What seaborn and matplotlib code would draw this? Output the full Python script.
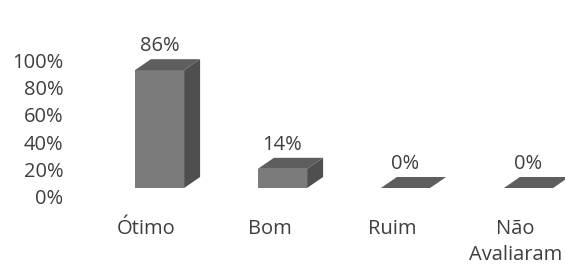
import matplotlib
matplotlib.use("Agg")
import matplotlib.pyplot as plt
import seaborn as sns
from matplotlib.patches import Polygon
from matplotlib.transforms import ScaledTranslation

categories = ["Ótimo", "Bom", "Ruim", "Não\nAvaliaram"]
values = [86, 14, 0, 0]
tick_values = [0, 20, 40, 60, 80, 100]
tick_labels = ["0%", "20%", "40%", "60%", "80%", "100%"]

sns.set_theme(style="white")
plt.rcParams['font.family'] = ['Open Sans', 'DejaVu Sans']
TEXT = "#3f3f3f"
FRONT, SIDE, TOP = "#7b7b7b", "#4f4f4f", "#5e5e5e"
FS = 14.5

W, H = 565, 267
fig = plt.figure(figsize=(W / 100, H / 100), dpi=100)
fig.patch.set_facecolor("white")
ax = fig.add_axes([98 / W, (H - 188) / H, (565 - 98) / W, 137 / H])
sns.barplot(x=categories, y=values, color=FRONT, width=0.4, saturation=1,
            ax=ax, linewidth=0)
ax.set_xlim(-0.5, -0.5 + 467 / 123)
ax.set_ylim(0, 100)

# depth of 3D effect (px -> data units)
dx = 16 / 123
dy = 11 / 1.37

for p, v in zip(ax.patches, values):
    p.set_clip_on(False)
    x0, w, h = p.get_x(), p.get_width(), p.get_height()
    if h > 0:
        side = Polygon([(x0 + w, 0), (x0 + w + dx, dy), (x0 + w + dx, h + dy), (x0 + w, h)],
                       closed=True, facecolor=SIDE, edgecolor="none", clip_on=False)
        ax.add_patch(side)
    top = Polygon([(x0, h), (x0 + w, h), (x0 + w + dx, h + dy), (x0 + dx, h + dy)],
                  closed=True, facecolor=TOP, edgecolor="none", clip_on=False)
    ax.add_patch(top)
    ax.text(x0 + w / 2, h, f"{v}%", ha="center", va="center", fontsize=FS, color=TEXT,
            transform=ax.transData + ScaledTranslation(0, 24 / 100, fig.dpi_scale_trans),
            clip_on=False)

for s in ax.spines.values():
    s.set_visible(False)

ax.set_yticks(tick_values, tick_labels)
ax.tick_params(axis="y", length=0, pad=25, labelsize=FS, labelcolor=TEXT)
for lab in ax.get_yticklabels():
    lab.set_transform(lab.get_transform() + ScaledTranslation(0, -9 / 100, fig.dpi_scale_trans))

ax.tick_params(axis="x", length=0, pad=22, labelsize=FS, labelcolor=TEXT)
for lab in ax.get_xticklabels():
    lab.set_linespacing(1.45)
    lab.set_transform(lab.get_transform() + ScaledTranslation(-13 / 100, 0, fig.dpi_scale_trans))

ax.set_xlabel("")
ax.set_ylabel("")
ax.set_facecolor("none")
fig.savefig("out.png", dpi=100, facecolor="white")
